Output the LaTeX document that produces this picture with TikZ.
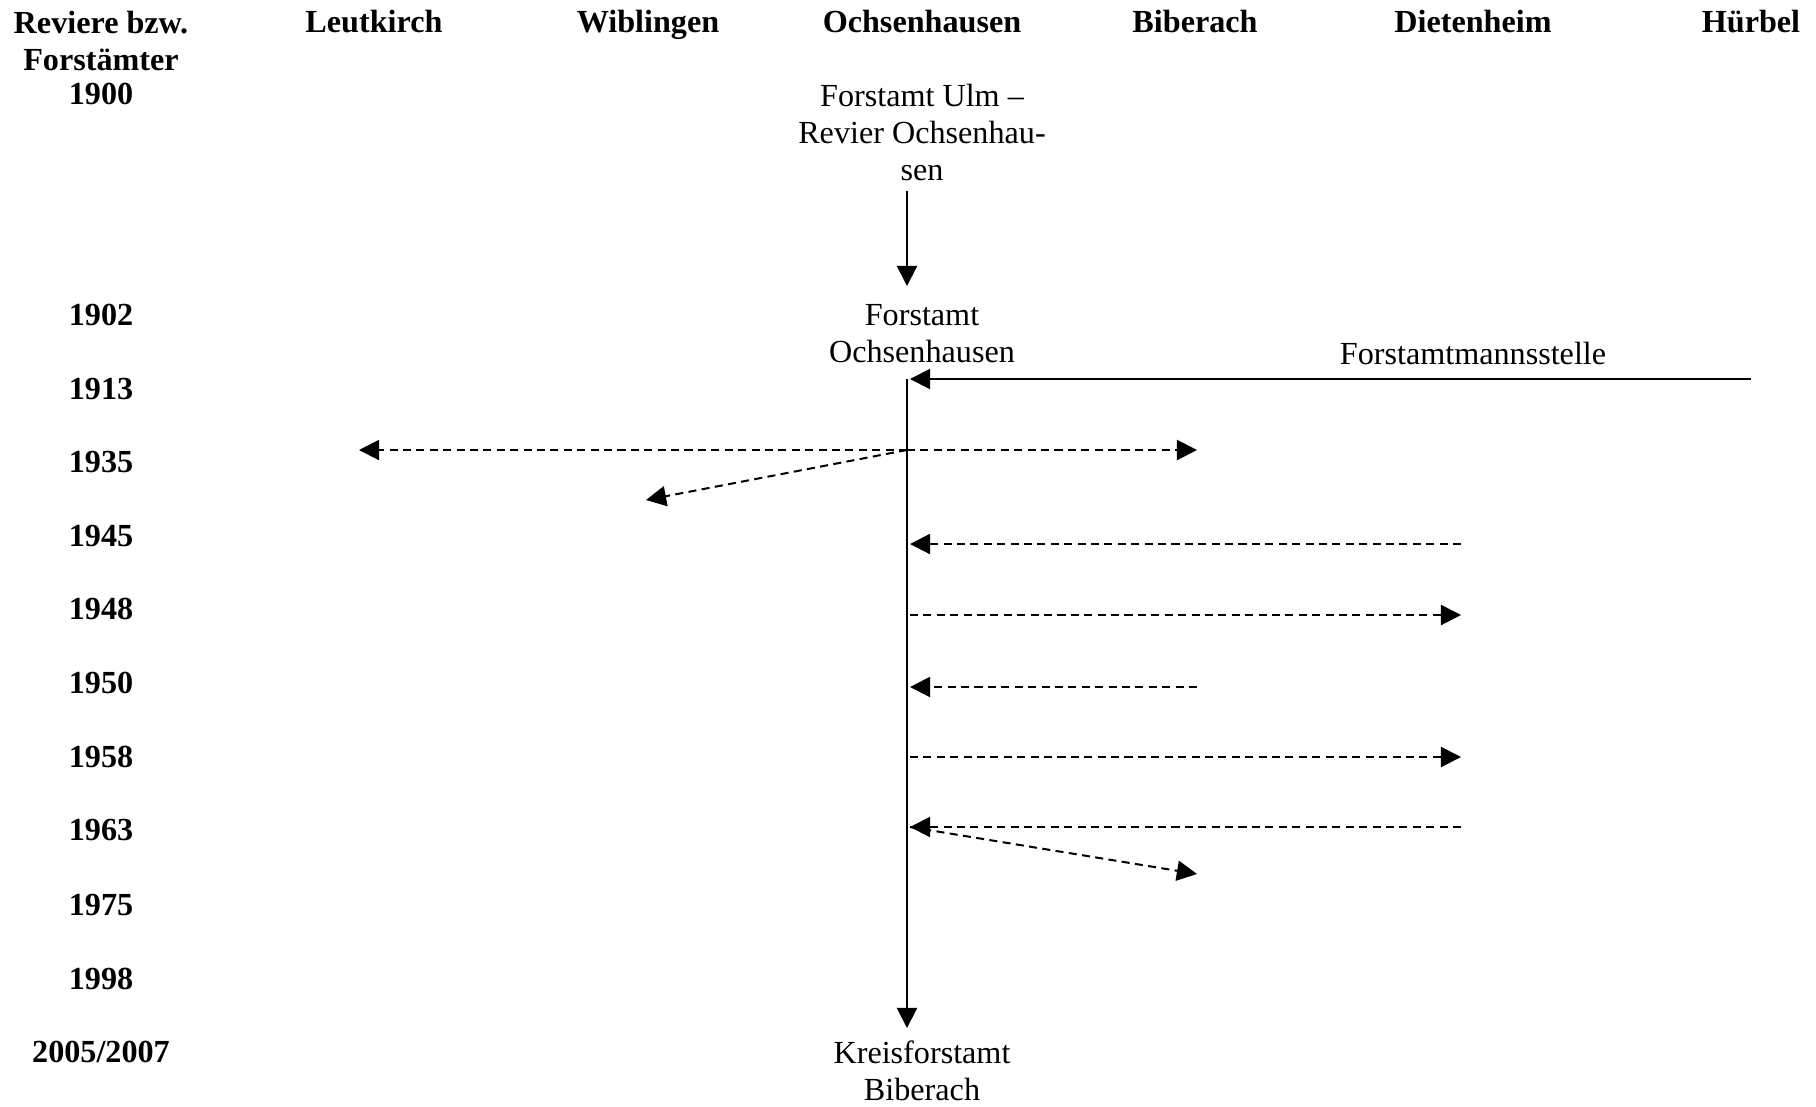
\documentclass[tikz,border=0pt]{standalone}
\usepackage{fontspec}
\setmainfont{Liberation Serif}
\usetikzlibrary{arrows.meta}
\begin{document}
\begin{tikzpicture}[x=0.373pt, y=-0.373pt,
    every node/.style={inner sep=0pt, align=center, font=\fontsize{12}{13.8}\selectfont},
    hdr/.style={font=\fontsize{12}{13.8}\selectfont\bfseries},
    colhead/.style={hdr, text height=0.9em, text depth=0.2em},
    flow/.style={line width=0.75pt, -{Triangle[length=7.5pt,width=7.5pt]}},
    move/.style={flow, dash pattern=on 3pt off 2pt}]
    \useasboundingbox (0,0) rectangle (1816,1106);
    % column heads
    \node[hdr] (hrev) at (101,41) {Reviere bzw.\\Forstämter};
    \node[colhead] (hleu) at (374,23) {Leutkirch};
    \node[colhead] (hwib) at (648,23) {Wiblingen};
    \node[colhead] (hoch) at (922,23) {Ochsenhausen};
    \node[colhead] (hbib) at (1195,23) {Biberach};
    \node[colhead] (hdie) at (1473,23) {Dietenheim};
    \node[colhead] (hhue) at (1751,23) {Hürbel};
    % years
    \foreach \y/\yr [count=\i] in {95/1900, 316/1902, 390/1913, 463/1935, 537/1945, 610/1948,
        684/1950, 758/1958, 831/1963, 906/1975, 980/1998, 1053/2005\slash 2007}
        \node[colhead] (year\i) at (101,\y) {\yr};
    % offices
    \node (ulm) at (922,132) {Forstamt Ulm --\\Revier Ochsenhau-\\sen};
    \node (och) at (922,334) {Forstamt\\Ochsenhausen};
    \node (fms) at (1473,353) {Forstamtmannsstelle};
    \node (kfa) at (922,1071) {Kreisforstamt\\Biberach};
    % points on the time line
    \coordinate (u0) at (907,191);
    \coordinate (u1) at (907,286);
    \coordinate (top) at (907,379);
    \coordinate (bot) at (907,1028);
    \coordinate (hue) at (1751,379);
    \coordinate (t13) at (910,379);
    \coordinate (s35) at (907,450);
    \coordinate (leu35) at (359,450);
    \coordinate (bib35) at (1197,450);
    \coordinate (wib35) at (646,500);
    \coordinate (t45) at (910,544);
    \coordinate (die45) at (1461,544);
    \coordinate (t48) at (910,615);
    \coordinate (die48) at (1461,615);
    \coordinate (t50) at (910,687);
    \coordinate (bib50) at (1197,687);
    \coordinate (t58) at (910,757);
    \coordinate (die58) at (1461,757);
    \coordinate (t63) at (910,827);
    \coordinate (die63) at (1461,827);
    \coordinate (bib63) at (1197,874);
    % solid lines
    \draw[flow] (u0) -- (u1);
    \draw[flow] (hue) -- (t13);
    \draw[flow] (top) -- (bot);
    % moves of districts
    \draw[move] (s35) -- (leu35);
    \draw[move] (s35) -- (bib35);
    \draw[move] (s35) -- (wib35);
    \draw[move] (die45) -- (t45);
    \draw[move] (t48) -- (die48);
    \draw[move] (bib50) -- (t50);
    \draw[move] (t58) -- (die58);
    \draw[move] (die63) -- (t63);
    \draw[move] (t63) -- (bib63);
\end{tikzpicture}
\end{document}
